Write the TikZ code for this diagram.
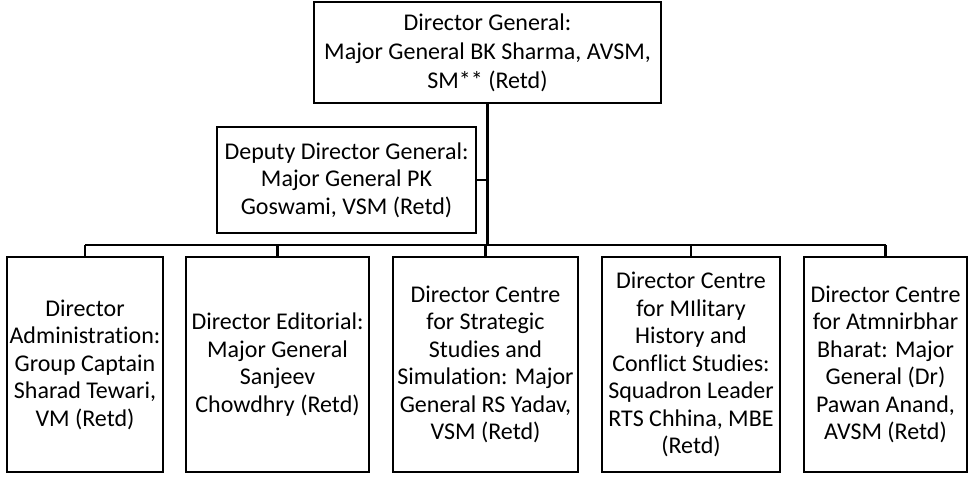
\documentclass[tikz,border=0pt]{standalone}
\usepackage{fontspec}
\setmainfont[RawFeature=-liga]{Carlito}
\usepackage{tikz}

\tikzset{
  post/.style={draw, line width=2pt, align=center, inner sep=0pt,
    font=\fontsize{24}{27.5}\selectfont},
  link/.style={line width=2.2pt}
}

\begin{document}
\begin{tikzpicture}[x=1pt, y=-1pt]
\useasboundingbox (0,0) rectangle (969,477);
\node[post, minimum width=347pt, minimum height=101pt,
  font=\fontsize{24}{29}\selectfont] (dg) at (487.5,52.5)
  {Director General:\\Major General BK Sharma, AVSM,\\SM** (Retd)};
\node[post, minimum width=259pt, minimum height=106pt] (ddg) at (346.5,180)
  {Deputy Director General:\\Major General PK\\Goswami, VSM (Retd)};
\node[post, minimum width=156pt, minimum height=215pt] (admin) at (85,364.5)
  {Director\\Administration:\\Group Captain\\Sharad Tewari,\\VM (Retd)};
\node[post, minimum width=183pt, minimum height=215pt] (editorial) at (277.5,364.5)
  {Director Editorial:\\Major General\\Sanjeev\\Chowdhry (Retd)};
\node[post, minimum width=185pt, minimum height=215pt] (strategic) at (485.5,364.5)
  {Director Centre\\for Strategic\\Studies and\\Simulation: Major\\General RS Yadav,\\VSM (Retd)};
\node[post, minimum width=178pt, minimum height=215pt] (military) at (691,364.5)
  {Director Centre\\for MIlitary\\History and\\Conflict Studies:\\Squadron Leader\\RTS Chhina, MBE\\(Retd)};
\node[post, minimum width=163pt, minimum height=215pt] (atmnirbhar) at (885.5,364.5)
  {Director Centre\\for Atmnirbhar\\Bharat: Major\\General (Dr)\\Pawan Anand,\\AVSM (Retd)};
\coordinate (bus) at (0,245);
% trunk and bus
\draw[link] (dg.south) -- (dg.south |- bus);
\draw[link] (ddg.east) -- (ddg.east -| dg.south);
\draw[link] (admin.north |- bus) -- (atmnirbhar.north |- bus);
\foreach \n in {admin,editorial,strategic,military,atmnirbhar}
  \draw[link] (\n.north) -- (\n.north |- bus);
\end{tikzpicture}
\end{document}
